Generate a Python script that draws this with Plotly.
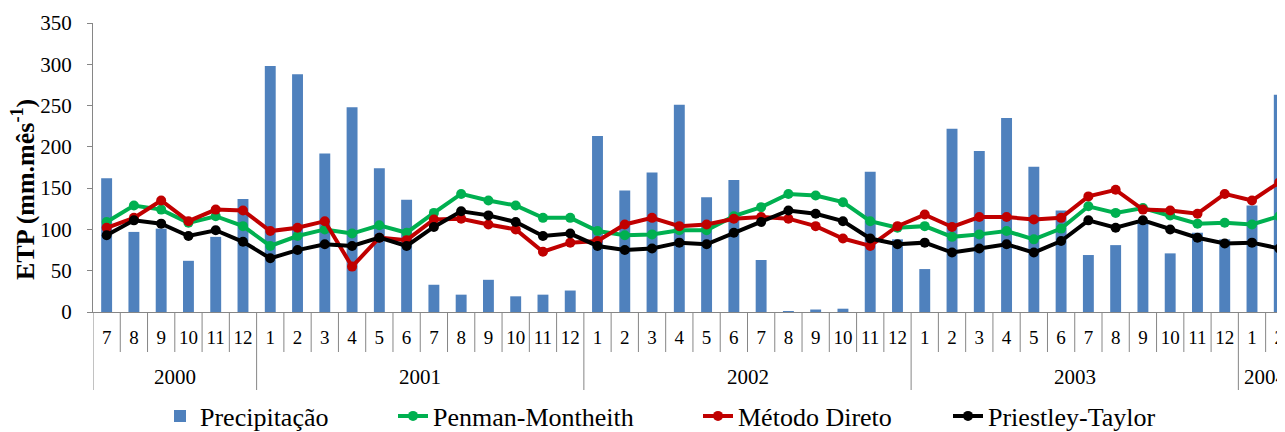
import plotly.graph_objects as go

# category labels (month / year)
meses = ["7", "8", "9", "10", "11", "12",
         "1", "2", "3", "4", "5", "6", "7", "8", "9", "10", "11", "12",
         "1", "2", "3", "4", "5", "6", "7", "8", "9", "10", "11", "12",
         "1", "2", "3", "4", "5", "6", "7", "8", "9", "10", "11", "12",
         "1", "2"]
anos = ["2000"] * 6 + ["2001"] * 12 + ["2002"] * 12 + ["2003"] * 12 + ["2004"] * 2

precipitacao = [162, 97, 101, 62, 91, 137,
                298, 288, 192, 248, 174, 136, 33, 21, 39, 19, 21, 26,
                213, 147, 169, 251, 139, 160, 63, 1, 3, 4, 170, 88,
                52, 222, 195, 235, 176, 123, 69, 81, 108, 71, 96, 88,
                129, 263]

penman = [109, 129, 124, 108, 116, 104,
          80, 92, 100, 95, 105, 96, 120, 143, 135, 129, 114, 114,
          98, 93, 94, 99, 99, 116, 127, 143, 141, 133, 110, 102,
          104, 91, 94, 98, 88, 101, 128, 120, 126, 117, 107, 108,
          106, 116]

metodo_direto = [102, 114, 135, 110, 124, 123,
                 98, 102, 110, 55, 90, 87, 112, 113, 106, 100, 73, 84,
                 86, 106, 114, 104, 106, 113, 115, 113, 104, 89, 80, 104,
                 118, 103, 115, 115, 112, 114, 140, 148, 124, 123, 119, 143,
                 135, 157]

priestley = [93, 111, 107, 92, 99, 85,
             65, 75, 82, 80, 90, 80, 103, 122, 117, 109, 92, 95,
             80, 75, 77, 84, 82, 96, 109, 123, 119, 110, 89, 82,
             84, 72, 77, 82, 72, 86, 111, 102, 111, 100, 90, 83,
             84, 77]

FONT = "Liberation Serif"
AXIS_GREY = "#868686"
PLOT_W = 1192  # px size of plot area, used to place things outside it
PLOT_H = 289
PLOT_L = 93

# unique category keys, shown with the month label only
cats = [f"{a}-{m}" for a, m in zip(anos, meses)]

fig = go.Figure()

fig.add_trace(go.Bar(
    x=cats, y=precipitacao,
    name="Precipitação",
    marker=dict(color="#4F81BD", line_width=0),
    legend="legend",
))

for nome, vals, cor, leg in [
    ("Penman-Montheith", penman, "#00B050", "legend2"),
    ("Método Direto", metodo_direto, "#C00000", "legend3"),
    ("Priestley-Taylor", priestley, "#000000", "legend4"),
]:
    fig.add_trace(go.Scatter(
        x=cats, y=vals,
        name=nome,
        mode="lines+markers",
        line=dict(color=cor, width=4),
        marker=dict(color=cor, size=10),
        legend=leg,
    ))

# month dividers (short) and year dividers (long), Excel-style two-level axis
n = len(cats)
for i in range(n + 1):
    novo_ano = i == 0 or i == n or anos[i] != anos[i - 1]
    fig.add_shape(
        type="line", xref="x", yref="paper",
        x0=i - 0.5, x1=i - 0.5,
        y0=0, y1=-(78 if novo_ano else 40) / PLOT_H,
        line=dict(color=AXIS_GREY, width=1),
    )

# year labels centred on their group
inicio = 0
for i in range(1, n + 1):
    if i == n or anos[i] != anos[inicio]:
        fig.add_annotation(
            x=(inicio + i - 1) / 2, xref="x",
            y=-65 / PLOT_H, yref="paper", yanchor="middle",
            text=anos[inicio], showarrow=False,
            font=dict(family=FONT, size=21, color="#000000"),
        )
        inicio = i

# y-axis title sits a bit below the middle of the axis, as in the original
fig.add_annotation(
    x=(23 - PLOT_L) / PLOT_W, xref="paper", xanchor="center",
    y=(312 - 190) / PLOT_H, yref="paper", yanchor="middle",
    text="<b>ETP (mm.mês<sup>-1</sup>)</b>", textangle=-90,
    showarrow=False,
    font=dict(family=FONT, size=26, color="#000000"),
)


def _legenda(texto_x):
    return dict(
        orientation="h",
        x=(texto_x - 40 - PLOT_L) / PLOT_W, xanchor="left",
        y=-104 / PLOT_H, yanchor="middle",
        font=dict(family=FONT, size=26),
        bgcolor="rgba(0,0,0,0)",
    )


# page body has an 8px margin, so the figure is 8px smaller than the window
fig.update_layout(
    width=1277, height=424,
    paper_bgcolor="white",
    plot_bgcolor="white",
    font=dict(family=FONT, color="#000000", size=20),
    margin=dict(t=15, b=120, l=85, r=0, autoexpand=False),
    bargap=0.6,
    showlegend=True,
    legend=_legenda(200),
    legend2=_legenda(433),
    legend3=_legenda(738),
    legend4=_legenda(988),
    xaxis=dict(
        type="category",
        range=[-0.5, 43.21],
        automargin=False,
        showline=True, linecolor=AXIS_GREY, linewidth=1,
        ticks="",
        tickmode="array", tickvals=cats, ticktext=meses,
        ticklabelstandoff=8,
        tickfont=dict(family=FONT, size=19),
        showgrid=False,
    ),
    yaxis=dict(
        range=[0, 350],
        dtick=50,
        automargin=False,
        showline=True, linecolor=AXIS_GREY, linewidth=1,
        ticks="outside", ticklen=5, tickcolor=AXIS_GREY,
        ticklabelstandoff=11,
        showgrid=False, zeroline=False,
        tickfont=dict(family=FONT, size=21),
    ),
)

fig.write_html("out.html")
